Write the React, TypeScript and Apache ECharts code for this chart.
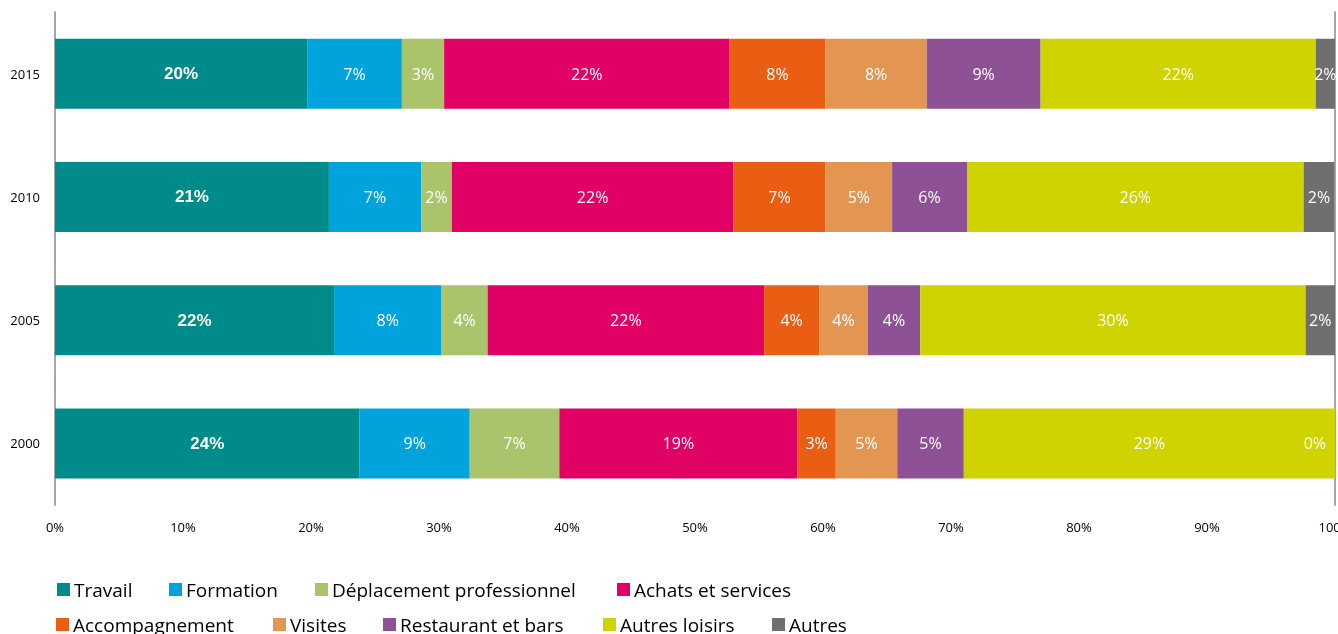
import React, { useEffect, useRef } from "react";
import * as echarts from "echarts";

const years = ["2000", "2005", "2010", "2015"];
const xTicks = [0, 10, 20, 30, 40, 50, 60, 70, 80, 90, 100];

const travail = [23.8, 21.8, 21.4, 19.7];
const formation = [8.6, 8.4, 7.2, 7.4];
const deplacement = [7.0, 3.6, 2.4, 3.3];
const achats = [18.6, 21.6, 22.0, 22.3];
const accompagnement = [3.0, 4.3, 7.2, 7.5];
const visites = [4.8, 3.8, 5.2, 7.9];
const restaurant = [5.2, 4.1, 5.85, 8.9];
const autresLoisirs = [29.0, 30.1, 26.3, 21.5];
const autres = [0, 2.3, 2.4, 1.5];

const seriesDefs = [
  { name: "Travail", data: travail, color: "#008B8B" },
  { name: "Formation", data: formation, color: "#00A3DB" },
  { name: "Déplacement professionnel", data: deplacement, color: "#A9C46A" },
  { name: "Achats et services", data: achats, color: "#E10064" },
  { name: "Accompagnement", data: accompagnement, color: "#E95E12" },
  { name: "Visites", data: visites, color: "#E39651" },
  { name: "Restaurant et bars", data: restaurant, color: "#8E5196" },
  { name: "Autres loisirs", data: autresLoisirs, color: "#CFD300" },
  { name: "Autres", data: autres, color: "#6F6F6F" },
];

const legendPos = [
  { left: 57, top: 580 },
  { left: 169, top: 580 },
  { left: 315, top: 580 },
  { left: 617, top: 580 },
  { left: 56, top: 615 },
  { left: 273, top: 615 },
  { left: 383, top: 615 },
  { left: 603, top: 615 },
  { left: 772, top: 615 },
];

const FONT = "'Open Sans', sans-serif";

export default function App() {
  const ref = useRef<HTMLDivElement>(null);
  useEffect(() => {
    if (!ref.current) return;
    const chart = echarts.init(ref.current, null, { renderer: "svg" });
    chart.setOption({
      animation: false,
      textStyle: { fontFamily: FONT },
      grid: {
        left: 55,
        right: 3,
        top: 12,
        bottom: 129,
        containLabel: false,
        outerBoundsMode: "none",
      },
      xAxis: {
        type: "value",
        min: 0,
        max: 100,
        interval: 10,
        axisLine: { show: false },
        axisTick: { show: false },
        splitLine: { show: false },
        axisLabel: {
          formatter: (v: number) => (xTicks.includes(v) ? v + "%" : ""),
          color: "#000",
          fontSize: 13,
          fontFamily: FONT,
          margin: 15,
          hideOverlap: false,
        },
      },
      yAxis: [
        {
          type: "category",
          data: years,
          axisLine: { show: true, lineStyle: { color: "#A6A6A6", width: 2 } },
          axisTick: { show: false },
          axisLabel: { color: "#000", fontSize: 13, fontFamily: FONT, margin: 15 },
        },
        {
          type: "category",
          data: years,
          position: "right",
          axisLine: { show: true, lineStyle: { color: "#A6A6A6", width: 2 } },
          axisTick: { show: false },
          axisLabel: { show: false },
        },
      ],
      legend: seriesDefs.map((s, i) => ({
        data: [s.name],
        left: legendPos[i].left,
        top: legendPos[i].top,
        padding: 0,
        itemWidth: 13,
        itemHeight: 13,
        itemGap: 0,
        icon: "rect",
        selectedMode: false,
        textStyle: { fontSize: 19, color: "#000", fontFamily: FONT, padding: [0, 0, 0, -1] },
      })),
      series: seriesDefs.map((s, i) => ({
        type: "bar",
        name: s.name,
        stack: "total",
        barWidth: 70,
        itemStyle: { color: s.color },
        label: {
          show: true,
          position: "inside",
          color: "#fff",
          fontSize: i === 0 ? 17 : 16,
          fontWeight: i === 0 ? "bold" : "normal",
          fontFamily: i === 0 ? "'Liberation Sans', sans-serif" : FONT,
          formatter: (p: any) => Math.round(p.value) + "%",
        },
        data: s.data.map((v) =>
          v === 0
            ? { value: v, label: { position: "insideRight", distance: 9 } }
            : v
        ),
      })),
    });
    return () => chart.dispose();
  }, []);
  return (
    <div
      ref={ref}
      style={{ position: "fixed", left: 0, top: 0, width: 1338, height: 634 }}
    />
  );
}
